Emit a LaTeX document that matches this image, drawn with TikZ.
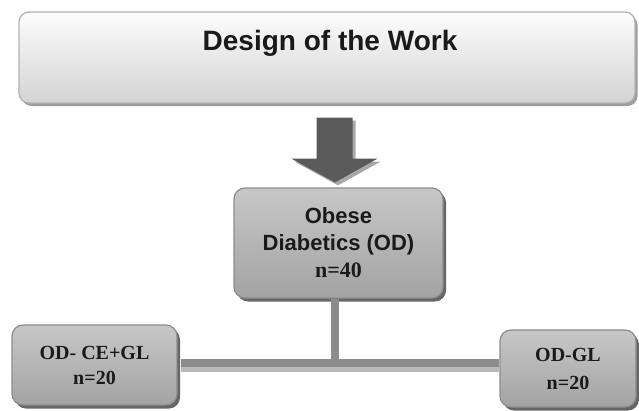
\documentclass[tikz,border=0pt]{standalone}
\usepackage{fontspec}
\setmainfont{Liberation Serif}
\newfontfamily\arialfont{Liberation Sans}
\usetikzlibrary{shadows,calc}
\definecolor{txt}{HTML}{1A1A1A}
\definecolor{arrowgray}{HTML}{5A5A5A}
\definecolor{arrowshadow}{HTML}{A8A8A8}
\definecolor{linegray}{HTML}{8C8C8C}
\definecolor{lineshadow}{HTML}{BABABA}
\tikzset{
  titlebox/.style={rounded corners=10pt, draw=black!30, line width=1.3pt,
    top color=white!99!black, bottom color=black!17, middle color=black!9,
    drop shadow={shadow xshift=2.5pt, shadow yshift=-3pt, fill=black!38, opacity=1},
    inner sep=0pt, anchor=center},
  graybox/.style={rounded corners=11pt, draw=black!45, line width=1.2pt,
    top color=black!22, bottom color=black!36,
    drop shadow={shadow xshift=3pt, shadow yshift=-3.5pt, fill=black!60, opacity=1},
    inner sep=0pt, anchor=center, align=center, text=txt},
  conn/.style={draw=linegray, line width=8pt},
  connshadow/.style={draw=lineshadow, line width=8pt},
}
\newcommand{\sanstxt}[1]{{\arialfont\bfseries #1}}
\begin{document}
\begin{tikzpicture}[x=1pt,y=-1pt]
\useasboundingbox (0,0) rectangle (639,410);
% title box
\node[titlebox, minimum width=616pt, minimum height=91pt] (title) at (327,57.5) {};
\node[text=txt, inner sep=0pt, font=\arialfont\bfseries\fontsize{28}{30}\selectfont] (titletext) at (330,43) {Design of the Work};
% middle box
\node[graybox, minimum width=209pt, minimum height=110pt, font=\fontsize{22}{27}\selectfont] (obese) at (338.5,243)
  {\sanstxt{Obese}\\ \sanstxt{Diabetics (OD)}\\ \textbf{n=40}};
% lower boxes
\node[graybox, minimum width=165pt, minimum height=80pt, font=\bfseries\fontsize{20}{25}\selectfont] (left) at (94.5,365)
  {OD- CE+GL\\ n=20};
\node[graybox, minimum width=136pt, minimum height=77pt, font=\bfseries\fontsize{20}{28}\selectfont] (right) at (568,368.5)
  {OD-GL\\ n=20};
% block arrow
\coordinate (atop) at ($(title.south)+(7.5,14)$);
\coordinate (atip) at ($(obese.north)+(-3.5,-5)$);
\fill[arrowshadow] ($(atop)+(-15,3)$) -- ($(atop)+(21,3)$) -- ($(atop)+(21,44)$)
  -- ($(atop)+(46,44)$) -- ($(atip)+(3,3)$) -- ($(atop)+(-40,44)$)
  -- ($(atop)+(-15,44)$) -- cycle;
\fill[arrowgray] ($(atop)+(-18,0)$) -- ($(atop)+(18,0)$) -- ($(atop)+(18,41)$)
  -- ($(atop)+(43,41)$) -- (atip) -- ($(atop)+(-43,41)$) -- ($(atop)+(-18,41)$) -- cycle;
% connectors
\coordinate (j) at (335,363);
\draw[connshadow] ($(left.east |- j)+(3,5)$) -- ($(right.west |- j)+(0,5)$);
\draw[conn] (j |- obese.south) -- (j);
\draw[conn] ($(left.east |- j)+(3,0)$) -- (right.west |- j);
\end{tikzpicture}
\end{document}
